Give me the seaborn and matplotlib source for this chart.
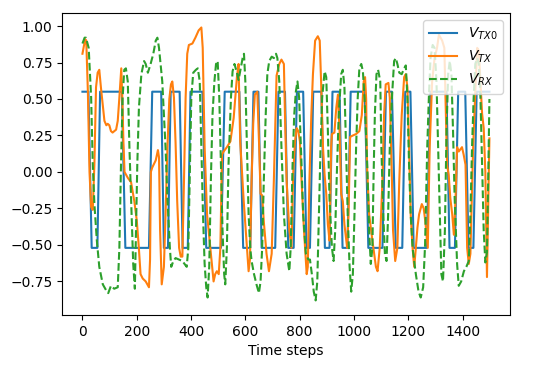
import numpy as np
import matplotlib
matplotlib.use("Agg")
import matplotlib.pyplot as plt
import seaborn as sns

# V_TX0: ideal transmitted square wave (corner points)
H, L = 0.55, -0.52
tx0_t = [0, 22, 34, 55, 65, 145, 158, 245, 257, 290, 300, 315, 325, 358, 369, 388,
         398, 442, 456, 510, 524, 578, 592, 618, 630, 648, 660, 710, 722, 746, 758, 778,
         790, 813, 825, 838, 850, 880, 893, 910, 921, 947, 958, 976, 988, 1040, 1053, 1105,
         1118, 1140, 1154, 1178, 1189, 1208, 1220, 1268, 1282, 1341, 1352, 1372, 1384, 1410,
         1422, 1440, 1452, 1499]
tx0_v = [H, H, L, L, H, H, L, L, H, H, L, L, H, H, L, L,
         H, H, L, L, H, H, L, L, H, H, L, L, H, H, L, L,
         H, H, L, L, H, H, L, L, H, H, L, L, H, H, L, L,
         H, H, L, L, H, H, L, L, H, H, L, L, H, H,
         L, L, H, H]

# V_TX: transmitted signal
tx_t = [0, 10, 14, 20, 26, 32, 38, 44, 50, 56, 62, 68, 81, 88, 93, 99, 105, 111, 124, 130,
        136, 143, 147, 151, 155, 167, 179, 191, 200, 207, 214, 222, 233, 245, 249, 252, 257,
        270, 278, 282, 286, 292, 300, 306, 313, 320, 326, 331, 337, 343, 349, 356, 362, 368,
        374, 380, 386, 392, 405, 416, 428, 438, 443, 450, 459, 471, 483, 489, 495, 502, 508,
        514, 520, 532, 545, 557, 569, 575, 581, 594, 606, 612, 617, 623, 629, 635, 644, 651,
        656, 662, 668, 678, 687, 697, 705, 715, 725, 733, 742, 746, 752, 762, 770, 776, 783,
        789, 795, 801, 807, 816, 826, 830, 836, 843, 849, 857, 867, 874, 879, 886, 892, 898,
        904, 910, 916, 919, 928, 935, 941, 947, 953, 959, 965, 975, 980, 986, 996, 1008, 1020,
        1029, 1036, 1041, 1045, 1048, 1056, 1068, 1081, 1087, 1095, 1105, 1111, 1117, 1127,
        1132, 1140, 1144, 1152, 1160, 1167, 1176, 1185, 1191, 1197, 1203, 1209, 1216, 1222,
        1228, 1234, 1240, 1250, 1257, 1263, 1272, 1279, 1288, 1297, 1306, 1313, 1325, 1333,
        1343, 1349, 1355, 1362, 1368, 1374, 1380, 1386, 1398, 1404, 1411, 1417, 1423, 1429,
        1439, 1447, 1454, 1460, 1466, 1472, 1478, 1484, 1490, 1495, 1499]
tx_v = [0.81, 0.91, 0.90, 0.55, 0.0, -0.24, -0.26, 0.05, 0.58, 0.68, 0.70, 0.58, 0.35, 0.32,
        0.33, 0.32, 0.28, 0.27, 0.29, 0.35, 0.51, 0.71, 0.5, 0.2, 0.0, -0.04, -0.07, -0.2, -0.33,
        -0.5, -0.70, -0.73, -0.75, -0.79, -0.6, 0.0, 0.03, 0.08, 0.15, 0.1, -0.4, -0.77, -0.65,
        -0.3, 0.17, 0.5, 0.60, 0.62, 0.51, 0.2, -0.2, -0.52, -0.58, -0.58, -0.06, 0.51, 0.81,
        0.87, 0.88, 0.92, 0.97, 0.99, 0.85, 0.17, -0.29, -0.52, -0.75, -0.70, -0.68, -0.70,
        -0.52, 0.12, 0.14, 0.17, 0.21, 0.37, 0.65, 0.74, 0.21, -0.2, -0.52, -0.68, -0.6, -0.06,
        0.33, 0.53, 0.55, 0.17, -0.15, -0.16, -0.34, -0.56, -0.68, -0.56, -0.06, 0.66, 0.74,
        0.77, 0.74, 0.39, -0.06, -0.40, -0.52, -0.02, 0.21, 0.30, 0.28, 0.21, -0.06, -0.40,
        -0.70, -0.65, -0.06, 0.39, 0.67, 0.90, 0.93, 0.90, 0.62, 0.17, -0.02, -0.15, -0.36,
        -0.47, 0.17, 0.26, 0.27, 0.44, 0.53, 0.28, -0.15, -0.20, -0.36, -0.52, -0.29, 0.24,
        0.25, 0.26, 0.28, 0.39, 0.62, 0.65, 0.5, 0.05, -0.29, -0.47, -0.65, -0.68, -0.52, -0.06,
        0.39, 0.60, 0.61, 0.51, -0.06, -0.40, -0.61, -0.52, -0.06, 0.39, 0.65, 0.67, 0.58, 0.17,
        -0.29, -0.52, -0.65, -0.52, -0.38, -0.29, -0.22, -0.25, -0.34, -0.52, 0.17, 0.62, 0.78,
        0.85, 0.94, 0.90, 0.85, 0.05, -0.02, -0.18, -0.29, -0.43, -0.2, 0.17, 0.14, 0.17, 0.12,
        0.05, -0.52, -0.63, -0.56, 0.17, 0.55, 0.85, 0.83, 0.62, 0.40, 0.30, 0.0, -0.72, -0.2,
        0.23]

# V_RX: received signal
rx_t = [0, 8, 13, 23, 32, 38, 44, 53, 62, 75, 87, 95, 105, 117, 130, 136, 142, 148, 154, 160,
        167, 173, 181, 187, 193, 196, 202, 208, 217, 227, 233, 241, 251, 261, 270, 276, 282,
        294, 306, 313, 322, 327, 335, 343, 356, 368, 376, 384, 390, 396, 401, 408, 418, 425,
        432, 438, 444, 450, 456, 461, 467, 473, 479, 486, 492, 498, 504, 510, 516, 522, 526,
        532, 538, 547, 553, 560, 569, 575, 581, 590, 595, 600, 606, 612, 618, 623, 632, 641,
        650, 656, 662, 668, 675, 681, 688, 697, 705, 713, 718, 725, 733, 742, 752, 762, 767,
        774, 780, 786, 792, 798, 807, 813, 823, 832, 838, 845, 852, 859, 865, 871, 877, 883,
        892, 898, 904, 910, 919, 925, 931, 938, 944, 953, 959, 965, 971, 977, 984, 990, 996,
        1002, 1008, 1014, 1020, 1027, 1033, 1039, 1049, 1056, 1062, 1068, 1072, 1077, 1083,
        1089, 1097, 1101, 1108, 1114, 1120, 1126, 1132, 1140, 1148, 1154, 1160, 1167, 1176,
        1185, 1191, 1197, 1203, 1209, 1216, 1228, 1238, 1246, 1255, 1262, 1270, 1276, 1282,
        1290, 1297, 1304, 1310, 1316, 1322, 1328, 1335, 1341, 1347, 1353, 1359, 1365, 1371,
        1380, 1386, 1395, 1405, 1414, 1423, 1429, 1435, 1441, 1447, 1454, 1460, 1466, 1472,
        1478, 1484, 1490, 1495, 1499]
rx_v = [0.88, 0.92, 0.92, 0.85, 0.51, 0.05, -0.22, -0.47, -0.65, -0.77, -0.81, -0.83, -0.78,
        -0.80, -0.79, -0.52, 0.05, 0.51, 0.70, 0.71, 0.62, 0.17, -0.29, -0.63, -0.80, -0.52,
        0.05, 0.44, 0.67, 0.76, 0.74, 0.68, 0.74, 0.81, 0.90, 0.92, 0.85, 0.62, 0.17, -0.18,
        -0.52, -0.65, -0.61, -0.59, -0.60, -0.61, -0.63, -0.65, -0.52, 0.05, 0.51, 0.68, 0.70,
        0.71, 0.62, 0.17, -0.29, -0.63, -0.79, -0.86, -0.65, -0.06, 0.39, 0.62, 0.74, 0.76,
        0.51, 0.05, -0.40, -0.70, -0.77, -0.52, 0.05, 0.51, 0.69, 0.74, 0.68, 0.63, 0.69, 0.78,
        0.81, 0.62, 0.17, -0.29, -0.52, -0.61, -0.70, -0.77, -0.83, -0.75, -0.52, -0.06, 0.39,
        0.67, 0.76, 0.79, 0.78, 0.81, 0.78, 0.62, 0.17, -0.29, -0.56, -0.68, -0.52, 0.05, 0.39,
        0.55, 0.62, 0.51, 0.05, -0.29, -0.56, -0.60, -0.60, -0.70, -0.82, -0.88, -0.75, -0.29,
        0.17, 0.51, 0.69, 0.65, 0.28, -0.18, -0.52, -0.61, -0.40, 0.05, 0.39, 0.67, 0.70, 0.58,
        0.17, -0.29, -0.65, -0.82, -0.70, -0.29, 0.17, 0.51, 0.71, 0.74, 0.69, 0.51, 0.05,
        -0.40, -0.63, -0.52, -0.06, 0.39, 0.67, 0.70, 0.62, 0.17, -0.29, -0.56, -0.61, -0.29,
        0.17, 0.51, 0.76, 0.78, 0.74, 0.68, 0.67, 0.71, 0.73, 0.51, 0.05, -0.29, -0.52, -0.70,
        -0.82, -0.86, -0.79, -0.5, 0.17, 0.51, 0.78, 0.87, 0.85, 0.62, 0.17, -0.29, -0.70,
        -0.75, -0.40, 0.28, 0.67, 0.76, 0.67, 0.28, -0.18, -0.63, -0.78, -0.75, -0.68, -0.65,
        -0.61, -0.29, 0.17, 0.51, 0.74, 0.78, 0.74, 0.51, 0.05, -0.40, -0.62, -0.55, 0.0, 0.5]

fig = plt.figure(figsize=(5.4, 3.68), dpi=100)
ax = fig.add_axes([0.115, 0.144, 0.829, 0.821])

sns.lineplot(x=tx0_t, y=tx0_v, ax=ax, color="#1f77b4", label="$V_{TX0}$",
             sort=False, estimator=None)
sns.lineplot(x=tx_t, y=tx_v, ax=ax, color="#ff7f0e", label="$V_{TX}$",
             sort=False, estimator=None)
sns.lineplot(x=rx_t, y=rx_v, ax=ax, color="#2ca02c", label="$V_{RX}$",
             linestyle="--", sort=False, estimator=None)

ax.set_ylim(-0.98, 1.09)
ax.set_xlabel("Time steps")
ax.set_ylabel("")
ax.legend(loc="upper right")

fig.savefig("out.png", dpi=100)
